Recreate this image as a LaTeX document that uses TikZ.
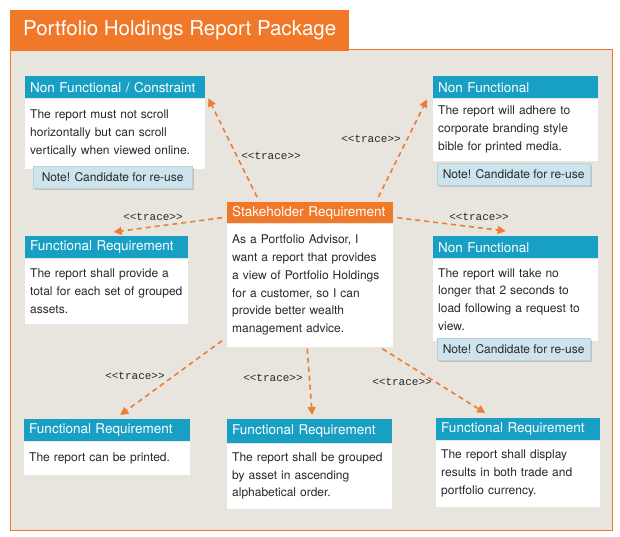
\documentclass[tikz,border=0pt]{standalone}
\usepackage{fontspec}
\setmainfont{TeX Gyre Heros}
\setmonofont{Liberation Mono}
\usetikzlibrary{arrows.meta,positioning,shadows}
\definecolor{pkgOrange}{RGB}{240,120,40}
\definecolor{reqTeal}{RGB}{24,160,196}
\definecolor{pkgBg}{RGB}{232,229,222}
\definecolor{noteBlue}{RGB}{205,228,238}
\definecolor{bodyGray}{RGB}{40,40,40}
\definecolor{traceOrange}{RGB}{236,126,52}

\begin{document}
\begin{tikzpicture}[x=1pt,y=-1pt,
  hdr/.style={rectangle,fill=reqTeal,text=white,anchor=north west,inner xsep=5pt,inner ysep=0pt,
              minimum height=22pt,align=left,font=\fontsize{13.5}{15}\selectfont},
  shdr/.style={hdr,fill=pkgOrange,minimum height=21pt},
  body/.style={rectangle,fill=white,text=bodyGray,anchor=north west,inner xsep=5pt,inner ysep=0pt,
               align=left,font=\fontsize{12}{17.8}\selectfont},
  note/.style={rectangle,fill=noteBlue,draw=noteBlue!80!gray,line width=0.3pt,text=bodyGray,
               anchor=north west,minimum height=22pt,inner xsep=0pt,font=\fontsize{12}{14}\selectfont,
               drop shadow={shadow xshift=1.5pt,shadow yshift=-1.5pt,opacity=0.35}},
  trace/.style={-{Triangle[length=8pt,width=8pt]},dash pattern=on 5pt off 4pt,line width=1.6pt,draw=traceOrange},
  lbl/.style={font=\ttfamily\fontsize{11}{12}\selectfont,text=bodyGray,inner sep=1pt}
]
  \useasboundingbox (0,0) rectangle (620,537);
  \fill[white] (0,0) rectangle (620,537);
  % package frame and title tab
  \draw[fill=pkgBg,draw=pkgOrange,line width=1pt] (10,50) rectangle (612,530);
  \node[fill=pkgOrange,text=white,anchor=north west,minimum width=339pt,minimum height=41pt,
        font=\fontsize{20.5}{23}\selectfont](title) at (10,9.5){Portfolio Holdings Report Package};

  % top row
  \node[hdr,text width=170pt](nfcH) at (25,76){Non Functional / Constraint};
  \node[body,text width=170pt,minimum height=70pt](nfcB) at (nfcH.south west)
      {The report must not scroll\\horizontally but can scroll\\vertically when viewed online.};
  \node[note,minimum width=159pt](nfcN) at (33,166){Note! Candidate for re-use};

  \node[hdr,text width=155pt](nfbH) at (433,76){Non Functional};
  \node[body,text width=155pt,minimum height=62pt](nfbB) at (nfbH.south west)
      {The report will adhere to\\corporate branding style\\bible for printed media.};
  \node[note,minimum width=153pt](nfbN) at (437,163){Note! Candidate for re-use};

  % middle row
  \node[shdr,text width=156pt](stakeH) at (227,202){Stakeholder Requirement};
  \node[body,text width=156pt,minimum height=123pt](stakeB) at (stakeH.south west)
      {As a Portfolio Advisor, I\\want a report that provides\\a view of Portfolio Holdings\\for a customer, so I can\\provide better wealth\\management advice.};

  \node[hdr,text width=153pt](ftotH) at (25,236){Functional Requirement};
  \node[body,text width=153pt,minimum height=65pt](ftotB) at (ftotH.south west)
      {The report shall provide a\\total for each set of grouped\\assets.};

  \node[hdr,text width=155pt](nfldH) at (433,236){Non Functional};
  \node[body,text width=155pt,minimum height=82pt](nfldB) at (nfldH.south west)
      {The report will take no\\longer that 2 seconds to\\load following a request to\\view.};
  \node[note,minimum width=153pt](nfldN) at (437,338){Note! Candidate for re-use};

  % bottom row
  \node[hdr,text width=156pt](fprH) at (24,419){Functional Requirement};
  \node[body,text width=156pt,minimum height=33pt](fprB) at (fprH.south west)
      {The report can be printed.};

  \node[hdr,text width=155pt,minimum height=24pt](fgrH) at (227,419){Functional Requirement};
  \node[body,text width=155pt,minimum height=65pt](fgrB) at (fgrH.south west)
      {The report shall be grouped\\by asset in ascending\\alphabetical order.};

  \node[hdr,text width=154pt](fcuH) at (436,418){Functional Requirement};
  \node[body,text width=154pt,minimum height=66pt](fcuB) at (fcuH.south west)
      {The report shall display\\results in both trade and\\portfolio currency.};

  % trace links
  \draw[trace]([xshift=30pt,yshift=5pt]stakeH.north west)--([xshift=3pt]nfcH.south east);
  \draw[trace]([xshift=-15pt,yshift=5pt]stakeH.north east)--([xshift=-6pt,yshift=-1pt]nfbH.south west);
  \draw[trace]([xshift=-5pt,yshift=-5pt]stakeH.west)--([xshift=7pt,yshift=4pt]ftotH.north);
  \draw[trace]([xshift=4pt,yshift=-5pt]stakeH.east)--([xshift=-10pt,yshift=5pt]nfldH.north);
  \draw[trace]([xshift=-5pt,yshift=6pt]stakeB.south west)--([xshift=13pt,yshift=4pt]fprH.north);
  \draw[trace]([xshift=-3pt,yshift=-2pt]stakeB.south)--([xshift=2.5pt,yshift=4pt]fgrH.north);
  \draw[trace]([xshift=-11pt,yshift=-2pt]stakeB.south east)--([xshift=-33pt,yshift=5pt]fcuH.north);

  \node[lbl](t1) at (271,156){<<trace>>};
  \node[lbl](t2) at (371,139){<<trace>>};
  \node[lbl](t3) at (153,217){<<trace>>};
  \node[lbl](t4) at (479,217){<<trace>>};
  \node[lbl](t5) at (135,376){<<trace>>};
  \node[lbl](t6) at (273,378){<<trace>>};
  \node[lbl](t7) at (402,382){<<trace>>};
\end{tikzpicture}
\end{document}
